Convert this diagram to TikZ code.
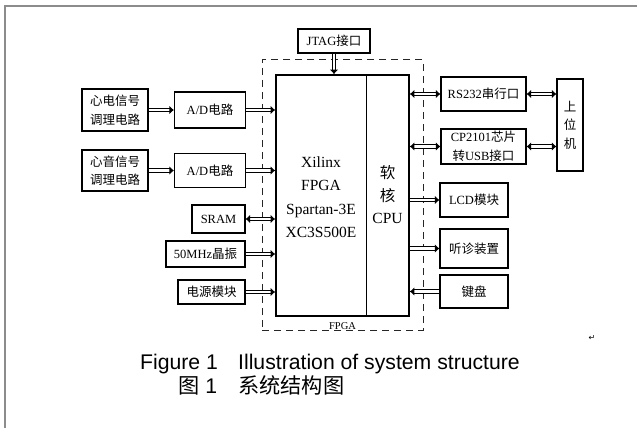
\documentclass[tikz,border=0pt]{standalone}
\usepackage{fontspec}
\setmainfont{Liberation Serif}
\newfontfamily\cjk{Noto Sans CJK SC}
\newfontfamily\capfont{Liberation Sans}
\newfontfamily\symfont{DejaVu Sans}
\usepackage{tikz}
\usetikzlibrary{arrows.meta, positioning, calc}

\begin{document}
\begin{tikzpicture}[
    x=1pt, y=-1pt,
    font=\fontsize{12.5}{18.5}\selectfont,
    box/.style={rectangle, draw=black, line width=1.2pt, fill=white, align=center, inner sep=1pt},
    core/.style={rectangle, draw=black, line width=1.6pt, minimum width=133pt, minimum height=241pt},
    area/.style={rectangle, draw=black!85, dash pattern=on 7pt off 5pt, line width=1pt, minimum width=161pt, minimum height=270pt},
    bus/.style={double distance=2.8pt, line width=1pt, -{Latex[length=4.5pt, width=8.5pt]}},
    busboth/.style={bus, {Latex[length=4.5pt, width=8.5pt]}-{Latex[length=4.5pt, width=8.5pt]}},
    frameline/.style={draw=gray!90, line width=2pt},
    caption/.style={anchor=west, inner sep=0pt, font=\capfont\fontsize{21.2}{25}\selectfont}
]
\useasboundingbox (0,0) rectangle (637,428);
\draw [frameline] (5,428) -- (5,6) -- (637,6);

% Nodes
\node (fpgaarea) [area] at (342.5,195) {};
\node (fpgalabel) [anchor=south, inner sep=0.5pt, font=\fontsize{10.5}{10.5}\selectfont] at (fpgaarea.south) {FPGA};
\node (fpga) [core] at (342.5,195.5) {};
\draw [line width=0.8pt] (fpga.north -| 366,0) -- (fpga.south -| 366,0);
\node (xilinx) [align=center, font=\fontsize{15.5}{23.5}\selectfont] at (321,197) {Xilinx\\FPGA\\Spartan-3E\\XC3S500E};
\node (cpu) [align=center, font=\fontsize{15.5}{22.5}\selectfont] at (387.5,195) {{\cjk 软}\\{\cjk 核}\\CPU};

\node (sig1) [box, minimum width=66pt, minimum height=42pt] at (115,110) {{\cjk 心电信号}\\{\cjk 调理电路}};
\node (ad1) [box, minimum width=71pt, minimum height=36pt] at (210,110) {A/D{\cjk 电路}};
\node (sig2) [box, minimum width=66pt, minimum height=41pt] at (115,170.5) {{\cjk 心音信号}\\{\cjk 调理电路}};
\node (ad2) [box, minimum width=71pt, minimum height=34pt] at (210,170.5) {A/D{\cjk 电路}};
\node (sram) [box, minimum width=53pt, minimum height=28pt] at (218.5,219) {SRAM};
\node (osc) [box, minimum width=79pt, minimum height=26pt] at (205.5,254) {50MHz{\cjk 晶振}};
\node (power) [box, minimum width=67pt, minimum height=24pt] at (211.5,292) {{\cjk 电源模块}};
\node (jtag) [box, minimum width=72pt, minimum height=24pt] at (334,41) {JTAG{\cjk 接口}};

\node (rs232) [box, minimum width=85pt, minimum height=34pt] at (483.5,94) {RS232{\cjk 串行口}};
\node (cp2101) [box, minimum width=85pt, minimum height=35pt] at (483.5,146.5) {CP2101{\cjk 芯片}\\{\cjk 转}USB{\cjk 接口}};
\node (lcd) [box, minimum width=68pt, minimum height=34pt] at (474,200) {LCD{\cjk 模块}};
\node (steth) [box, minimum width=68pt, minimum height=39pt] at (474,248.5) {{\cjk 听诊装置}};
\node (keypad) [box, minimum width=68pt, minimum height=33pt] at (474,291.5) {{\cjk 键盘}};
\node (host) [box, minimum width=26pt, minimum height=92pt] at (570,125) {{\cjk 上}\\{\cjk 位}\\{\cjk 机}};

\node (parmark) [font=\symfont\fontsize{8}{8}\selectfont] at (592,338) {↵};
\node (capen) [caption] at (140,364) {\makebox[98pt][l]{Figure 1}Illustration of system structure};
\node (capzh) [caption] at (178,385) {\makebox[60pt][l]{{\cjk 图} 1}{\cjk 系统结构图}};

% Paths
\draw [bus] (sig1.east) -- (sig1.east -| ad1.west);
\draw [bus] (ad1.east) -- (ad1.east -| fpga.west);
\draw [bus] (sig2.east) -- (sig2.east -| ad2.west);
\draw [bus] (ad2.east) -- (ad2.east -| fpga.west);
\draw [busboth] (sram.east) -- (sram.east -| fpga.west);
\draw [bus] (osc.east) -- (osc.east -| fpga.west);
\draw [bus] (power.east) -- (power.east -| fpga.west);
\draw [bus] (jtag.south) -- (jtag.south |- fpga.north);
\draw [busboth] (fpga.east |- rs232.west) -- (rs232.west);
\draw [busboth] (fpga.east |- cp2101.west) -- (cp2101.west);
\draw [busboth] (rs232.east) -- (rs232.east -| host.west);
\draw [busboth] (cp2101.east) -- (cp2101.east -| host.west);
\draw [bus] (fpga.east |- lcd.west) -- (lcd.west);
\draw [bus] (fpga.east |- steth.west) -- (steth.west);
\draw [bus] (keypad.west) -- (keypad.west -| fpga.east);

\end{tikzpicture}
\end{document}
